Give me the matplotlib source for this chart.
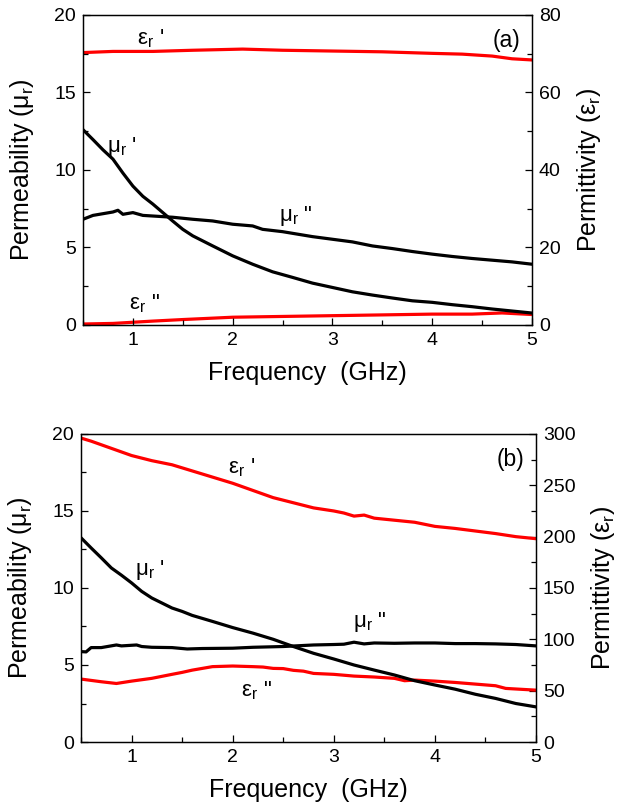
import matplotlib
matplotlib.use("Agg")
import matplotlib.pyplot as plt
from matplotlib.ticker import MultipleLocator

plt.rcParams['font.family'] = ['Liberation Sans', 'DejaVu Sans']
plt.rcParams['mathtext.default'] = 'regular'

# ---- Sample (a) ----
freq_a_mu1 = [0.5, 0.6, 0.7, 0.8, 0.9, 1.0, 1.1, 1.2, 1.3, 1.4, 1.5, 1.6, 1.8, 2.0, 2.2, 2.4,
              2.6, 2.8, 3.0, 3.2, 3.4, 3.6, 3.8, 4.0, 4.2, 4.4, 4.6, 4.8, 5.0]
mu1_a = [12.6, 11.96, 11.3, 10.7, 9.8, 8.96, 8.3, 7.8, 7.25, 6.7, 6.17, 5.75, 5.1, 4.46, 3.92, 3.43,
         3.07, 2.7, 2.42, 2.14, 1.93, 1.74, 1.56, 1.46, 1.31, 1.18, 1.03, 0.9, 0.77]

freq_a_mu2 = [0.5, 0.6, 0.7, 0.8, 0.85, 0.9, 1.0, 1.1, 1.2, 1.4, 1.6, 1.8, 2.0, 2.2, 2.3, 2.5,
              2.8, 3.0, 3.2, 3.4, 3.6, 3.8, 4.0, 4.2, 4.4, 4.6, 4.8, 5.0]
mu2_a = [6.82, 7.07, 7.18, 7.29, 7.4, 7.14, 7.25, 7.07, 7.03, 6.95, 6.82, 6.71, 6.5, 6.39, 6.17, 6.02,
         5.7, 5.53, 5.36, 5.1, 4.93, 4.74, 4.57, 4.42, 4.29, 4.18, 4.07, 3.92]

freq_a_eps1 = [0.5, 0.8, 1.2, 1.6, 2.1, 2.5, 3.0, 3.5, 4.0, 4.3, 4.6, 4.8, 5.0]
eps1_a = [70.3, 70.6, 70.6, 70.9, 71.2, 70.9, 70.7, 70.5, 70.1, 69.9, 69.4, 68.7, 68.4]

freq_a_eps2 = [0.5, 0.8, 1.0, 1.2, 1.5, 2.0, 2.5, 3.0, 3.5, 4.0, 4.4, 4.7, 5.0]
eps2_a = [0.25, 0.4, 0.7, 1.0, 1.4, 2.0, 2.2, 2.4, 2.6, 2.8, 2.8, 3.1, 2.7]

# ---- Sample (b) ----
freq_b_mu1 = [0.5, 0.6, 0.7, 0.8, 0.9, 1.0, 1.1, 1.2, 1.4, 1.5, 1.6, 1.8, 2.0, 2.2, 2.4, 2.6,
              2.8, 3.0, 3.2, 3.4, 3.6, 3.8, 4.0, 4.2, 4.4, 4.6, 4.8, 5.0]
mu1_b = [13.26, 12.6, 11.96, 11.3, 10.83, 10.33, 9.78, 9.35, 8.7, 8.48, 8.22, 7.83, 7.43, 7.07, 6.67, 6.2,
         5.76, 5.39, 5.0, 4.67, 4.35, 3.98, 3.7, 3.43, 3.1, 2.83, 2.5, 2.28]

freq_b_mu2 = [0.5, 0.55, 0.6, 0.7, 0.85, 0.9, 1.05, 1.1, 1.2, 1.4, 1.55, 1.7, 2.0, 2.2, 2.5, 2.8,
              3.0, 3.1, 3.2, 3.3, 3.4, 3.6, 3.8, 4.0, 4.2, 4.4, 4.6, 4.8, 5.0]
mu2_b = [5.87, 5.85, 6.13, 6.13, 6.3, 6.24, 6.3, 6.2, 6.15, 6.13, 6.04, 6.07, 6.09, 6.15, 6.2, 6.3,
         6.33, 6.35, 6.48, 6.37, 6.43, 6.41, 6.43, 6.43, 6.39, 6.39, 6.37, 6.33, 6.24]

freq_b_eps1 = [0.5, 0.6, 0.8, 1.0, 1.2, 1.4, 1.6, 1.8, 2.0, 2.2, 2.4, 2.6, 2.8, 3.0, 3.1, 3.2,
               3.3, 3.4, 3.6, 3.8, 4.0, 4.2, 4.4, 4.6, 4.8, 5.0]
eps1_b = [296, 293, 286, 279, 274, 270, 264, 258, 252, 245, 238, 233, 228, 225, 223, 220,
          221, 218, 216, 214, 210, 208, 205.5, 203, 200, 198]

freq_b_eps2 = [0.5, 0.7, 0.85, 1.0, 1.2, 1.4, 1.5, 1.6, 1.8, 2.0, 2.2, 2.3, 2.4, 2.5, 2.6, 2.7,
               2.8, 3.0, 3.2, 3.4, 3.6, 3.7, 3.8, 4.0, 4.2, 4.4, 4.6, 4.7, 5.0]
eps2_b = [61.3, 58.7, 57.0, 59.3, 62.0, 65.9, 67.8, 70.0, 73.4, 74.0, 73.4, 73.0, 71.7, 71.5, 69.8, 69.0,
          66.8, 65.9, 64.2, 63.3, 62.0, 59.7, 60.3, 59.3, 58.0, 56.4, 54.8, 52.2, 50.5]

BLACK = '#000000'
RED = '#ff0000'
LW = 2.3
TICK_FS = 14
LABEL_FS = 18
NOTE_FS = 16


def style_axis(ax, minor):
    ax.tick_params(which='both', direction='in', labelsize=TICK_FS, pad=5, width=0.9)
    ax.tick_params(which='major', length=5)
    ax.tick_params(which='minor', length=3.5)
    ax.yaxis.set_minor_locator(MultipleLocator(minor))
    for s in ax.spines.values():
        s.set_linewidth(0.9)


def panel(rect, mu1, mu2, eps1, eps2, eps_max, eps_step, tag, notes):
    ax = fig.add_axes(rect)
    ax2 = ax.twinx()
    ax.plot(mu1[0], mu1[1], color=BLACK, lw=LW, zorder=3)
    ax.plot(mu2[0], mu2[1], color=BLACK, lw=LW, zorder=3)
    ax2.plot(eps1[0], eps1[1], color=RED, lw=LW)
    ax2.plot(eps2[0], eps2[1], color=RED, lw=LW)

    ax.set_xlim(0.5, 5)
    ax.set_ylim(0, 20)
    ax2.set_ylim(0, eps_max)
    ax.xaxis.set_major_locator(MultipleLocator(1))
    ax.xaxis.set_minor_locator(MultipleLocator(0.5))
    ax.yaxis.set_major_locator(MultipleLocator(5))
    ax2.yaxis.set_major_locator(MultipleLocator(eps_step))
    style_axis(ax, 2.5)
    style_axis(ax2, eps_step / 2)
    ax.tick_params(axis='x', which='both', top=False)

    ax.set_xlabel('Frequency  (GHz)', fontsize=LABEL_FS, labelpad=9)
    ax.set_ylabel('Permeability ($μ_r$)', fontsize=LABEL_FS, labelpad=13)
    ax2.set_ylabel('Permittivity ($ε_r$)', fontsize=LABEL_FS, labelpad=10)

    ax.text(0.975, 0.955, tag, transform=ax.transAxes, ha='right', va='top',
            fontsize=16.5)
    for x, y, s in notes:
        ax.text(x, y, s, fontsize=NOTE_FS, ha='left', va='center', zorder=5)
    ax.set_zorder(ax2.get_zorder() + 1)
    ax.patch.set_visible(False)
    return ax, ax2


fig = plt.figure(figsize=(6.27, 8.02), dpi=100)

panel([0.1324, 0.5948, 0.8485 - 0.1324, 0.9813 - 0.5948],
      (freq_a_mu1, mu1_a), (freq_a_mu2, mu2_a),
      (freq_a_eps1, eps1_a), (freq_a_eps2, eps2_a),
      80, 20, '(a)',
      [(1.04, 18.5, "$ε_r$ '"), (0.74, 11.5, "$μ_r$ '"),
       (2.46, 7.0, '$μ_r$ "'), (0.96, 1.4, '$ε_r$ "')])

panel([0.1292, 0.0748, 0.8549 - 0.1292, 0.4589 - 0.0748],
      (freq_b_mu1, mu1_b), (freq_b_mu2, mu2_b),
      (freq_b_eps1, eps1_b), (freq_b_eps2, eps2_b),
      300, 50, '(b)',
      [(1.95, 17.8, "$ε_r$ '"), (1.03, 11.2, "$μ_r$ '"),
       (3.19, 7.8, '$μ_r$ "'), (2.08, 3.3, '$ε_r$ "')])

fig.savefig('out.png', dpi=100)
